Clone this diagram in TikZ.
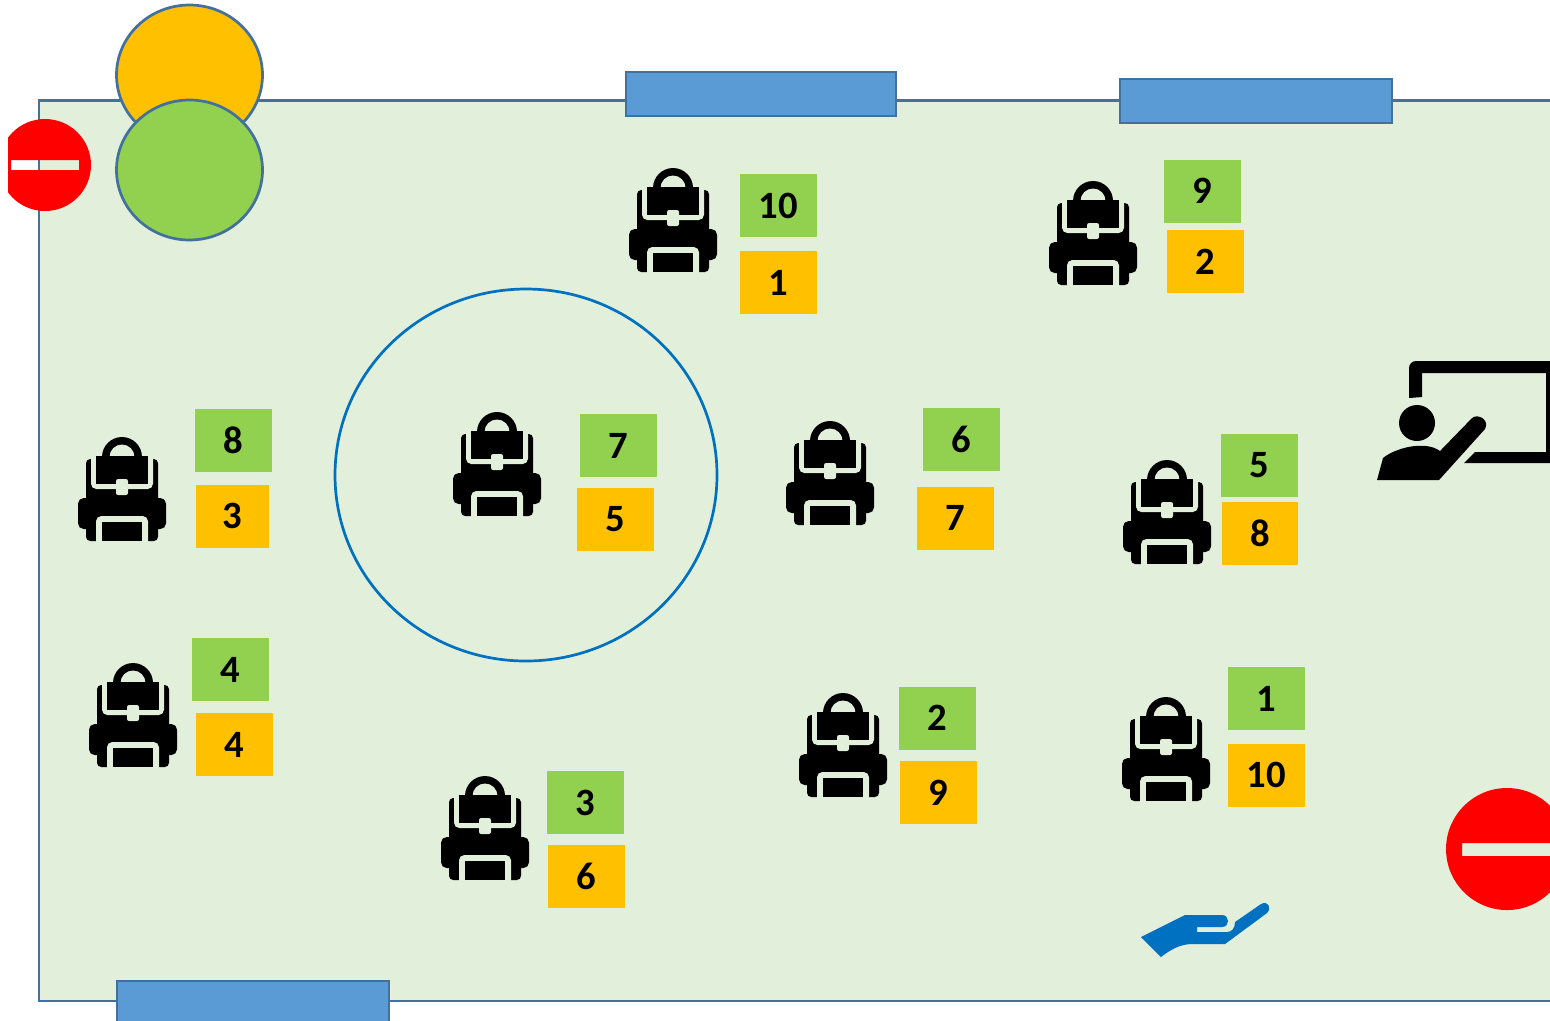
\documentclass[tikz,border=0pt]{standalone}
\usepackage{fontspec}
\setmainfont{Carlito}
\definecolor{roomgreen}{RGB}{226,239,218}
\definecolor{edgeblue}{RGB}{65,113,156}
\definecolor{doorblue}{RGB}{91,155,213}
\definecolor{ringblue}{RGB}{0,112,192}
\definecolor{tagamber}{RGB}{255,192,0}
\definecolor{taggreen}{RGB}{146,208,80}
\usetikzlibrary{positioning}

\begin{document}
\begin{tikzpicture}[
  x=0.1mm, y=-0.1mm,
  edge/.style={draw=edgeblue, line width=0.27mm},
  door/.style={edge, fill=doorblue},
  tag/.style={minimum width=7.7mm, minimum height=6.3mm, inner sep=0pt, font=\fontsize{11}{13}\selectfont\bfseries, text=black},
  gtag/.style={tag, fill=taggreen},
  atag/.style={tag, fill=tagamber},
  backpack/.pic={
    \fill[black, rounded corners=1.2pt] (-36,-30) rectangle (36,52);
    \fill[black, rounded corners=1.6pt] (-44,9) rectangle (44,40);
    \fill[roomgreen, rounded corners=1.5pt] (-31,-36) rectangle (31,0);
    \fill[black] (0,-32) circle[radius=20];
    \fill[roomgreen] (0,-32) circle[radius=12.5];
    \fill[black] (-26,-33) rectangle (26,-5);
    \fill[roomgreen, rounded corners=0.6pt] (-6,-10) rectangle (6,6);
    \fill[roomgreen, rounded corners=1.5pt] (-26,27) rectangle (26,60);
    \fill[black] (-20,33) rectangle (20,52);
    \fill[roomgreen] (-26,52) rectangle (26,60);
  }
]
\useasboundingbox (0,0) rectangle (1550,1020);
\clip (0,0) rectangle (1550,1020);

% Room
\draw[edge, fill=roomgreen] (1600,100.5) -- (39,100.5) -- (39,1001) -- (1600,1001);

% Doors
\draw[door] (626,72) rectangle (896,116);
\draw[door] (1120,79) rectangle (1392,123);
\draw[door] (117,981) rectangle (389,1040);

% Signals
\draw[edge, fill=tagamber] (189.5,75) ellipse[x radius=73, y radius=70];
\draw[edge, fill=taggreen] (189.5,170) ellipse[x radius=73, y radius=70];
\begin{scope}
\clip (8,100) rectangle (100,230);
\fill[red, even odd rule] (45,165) circle[radius=46] (11,160) rectangle (79,170);
\end{scope}
\fill[red, even odd rule] (1507,849) circle[radius=61] (1462,843) rectangle (1600,856);

% Circle round one seat
\draw[ringblue, line width=0.27mm] (526,475) ellipse[x radius=191, y radius=186];

% Seats
\pic at (673,220) {backpack};
\node[gtag] (g10) at (778,205.5) {10};
\node[atag] (a1) at (778,282.5) {1};

\pic at (1093,233) {backpack};
\node[gtag] (g9) at (1202,191) {9};
\node[atag] (a2) at (1205,261.5) {2};

\pic at (122,489) {backpack};
\node[gtag] (g8) at (233,440.5) {8};
\node[atag, minimum width=7.3mm] (a3) at (232.5,516) {3};

\pic at (497,464) {backpack};
\node[gtag] (g7) at (618,445.5) {7};
\node[atag] (a5) at (615,519.5) {5};

\pic at (830,473) {backpack};
\node[gtag] (g6) at (961,439) {6};
\node[atag] (a7) at (955.5,518) {7};

\pic at (1167,512) {backpack};
\node[gtag] (g5) at (1259,465) {5};
\node[atag, minimum width=7.6mm] (a8) at (1260,533.5) {8};

\pic at (133,715) {backpack};
\node[gtag] (g4) at (230,669.5) {4};
\node[atag] (a4) at (234.5,744.5) {4};

\pic at (485,828) {backpack};
\node[gtag] (g3) at (585,802.5) {3};
\node[atag] (a6) at (586.5,876.5) {6};

\pic at (843,745) {backpack};
\node[gtag] (g2) at (937,718) {2};
\node[atag] (a9) at (938.5,792.5) {9};

\pic at (1166,749) {backpack};
\node[gtag] (g1) at (1266,698.5) {1};
\node[atag] (a10) at (1266,775) {10};

% Teacher at the board
\fill[black] (1409,398) -- (1409,368) arc[start angle=180, end angle=270, radius=7] -- (1600,361) -- (1600,463)
  -- (1464,463) -- (1475,452) -- (1546,452) -- (1546,373) -- (1422,373) -- (1422,397) -- cycle;
\fill[black] (1417,423) circle[radius=18];
\fill[black] (1377,480) -- (1383,458) .. controls (1395,448) and (1425,440) .. (1440,451)
  -- (1472,418) .. controls (1478,413) and (1490,420) .. (1485,429) -- (1439,480) -- cycle;

% Hand
\fill[ringblue] (1141,937) -- (1161,957) .. controls (1170,950) and (1180,944) .. (1192,944) -- (1225,944)
  -- (1267,913) .. controls (1272,908) and (1268,900) .. (1261,904) -- (1235,922)
  .. controls (1235,928) and (1232,932) .. (1227,932) -- (1197,932) -- (1197,927) -- (1222,927)
  .. controls (1230,927) and (1230,915) .. (1222,915) -- (1185,915) -- cycle;
\end{tikzpicture}
\end{document}
